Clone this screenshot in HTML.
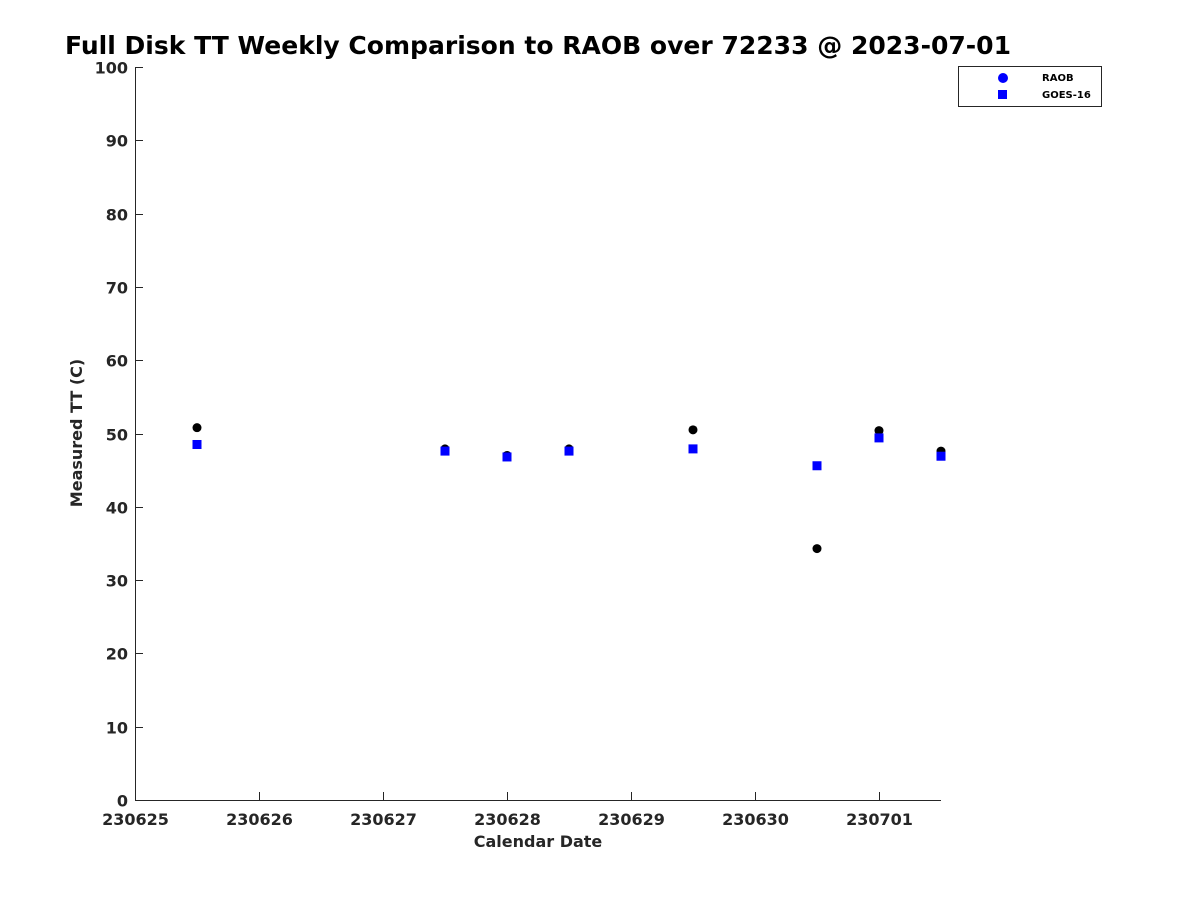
<!DOCTYPE html>
<html><head><meta charset="utf-8"><style>
body{margin:0;background:#fff;}
svg{display:block;font-family:"DejaVu Sans","Liberation Sans",sans-serif;}
</style></head><body>
<svg id="c" width="1200" height="900">
<text x="65" y="54" font-size="25" font-weight="bold" fill="#000" textLength="946" lengthAdjust="spacingAndGlyphs">Full Disk TT Weekly Comparison to RAOB over 72233 @ 2023-07-01</text>
<g id="axes"></g>
<g id="marks"></g>
<text x="538" y="847" text-anchor="middle" font-size="16" font-weight="bold" fill="#262626">Calendar Date</text>
<text transform="translate(82,433) rotate(-90)" text-anchor="middle" font-size="16" font-weight="bold" fill="#262626">Measured TT (C)</text>
<g>
<rect x="958.5" y="66.5" width="143" height="40" fill="#fff" stroke="#262626" stroke-width="1"/>
<circle cx="1003" cy="78" r="5" fill="#0000ff"/>
<text x="1042" y="81" font-size="10" font-weight="bold" fill="#000">RAOB</text>
<rect x="998" y="90" width="9" height="9" fill="#0000ff"/>
<text x="1042" y="98" font-size="10" font-weight="bold" fill="#000">GOES-16</text>
</g>
</svg>
<script>
const dayOffsets=[0.5,2.5,3,3.5,4.5,5.5,6,6.5];
const raobValues=[50.8,47.9,47.0,47.9,50.5,34.3,50.4,47.6];
const goesValues=[48.5,47.6,46.8,47.6,47.9,45.6,49.4,46.9];
const xTickLabels=["230625","230626","230627","230628","230629","230630","230701"];
const yTicks=[0,10,20,30,40,50,60,70,80,90,100];
const NS="http://www.w3.org/2000/svg";
const X0=135,X1=941,Y0=800,Y1=67,XMAX=6.5,YMAX=100;
const xs=d=>X0+d/XMAX*(X1-X0);
const ys=v=>Y0-v/YMAX*(Y0-Y1);
function mk(t,a,p){const e=document.createElementNS(NS,t);for(const k in a)e.setAttribute(k,a[k]);p.appendChild(e);return e;}
const ax=document.getElementById('axes'),mg=document.getElementById('marks');
let l=mk('line',{x1:X0,y1:Y0+.5,x2:X1,y2:Y0+.5,stroke:'#262626'},ax);


l=mk('line',{x1:X0+.5,y1:Y1,x2:X0+.5,y2:Y0,stroke:'#262626'},ax);


xTickLabels.forEach((s,i)=>{const x=Math.round(xs(i))+.5;
 const t=mk('line',{x1:x,y1:Y0,x2:x,y2:Y0-8,stroke:'#262626'},ax);
 
 
 const tx=mk('text',{x:x,y:Y0+25,'text-anchor':'middle','font-size':16,'font-weight':'bold',fill:'#262626'},ax);tx.textContent=s;
 
 
});
yTicks.forEach(v=>{const y=Math.round(ys(v))+.5;
 const t=mk('line',{x1:X0,y1:y,x2:X0+8,y2:y,stroke:'#262626'},ax);
 
 
 const tx=mk('text',{x:X0-7,y:y+6,'text-anchor':'end','font-size':16,'font-weight':'bold',fill:'#262626'},ax);tx.textContent=v;
 
 
});
dayOffsets.forEach((d,i)=>{
 const c=mk('circle',{cx:xs(d),cy:ys(raobValues[i]),r:4.5,fill:'#000'},mg);
 
 
});
dayOffsets.forEach((d,i)=>{
 const r=mk('rect',{x:xs(d)-4.5,y:ys(goesValues[i])-4.5,width:9,height:9,fill:'#0000ff'},mg);
 
 
});
</script>
</body></html>
